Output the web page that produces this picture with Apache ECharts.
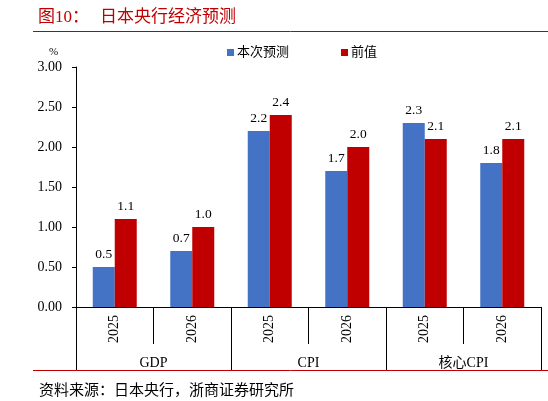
<!DOCTYPE html>
<html>
<head>
<meta charset="utf-8">
<script src="https://cdn.jsdelivr.net/npm/echarts@6/dist/echarts.min.js"></script>
<style>html,body{margin:0;padding:0;background:#fff;}#c{width:548px;height:401px;}</style>
</head>
<body>
<div id="c"></div>
<script>
var years = ['2025', '2026', '2025', '2026', '2025', '2026'];
var groups = ['GDP', 'CPI', '核心CPI'];
var seriesNames = ['本次预测', '前值'];
var current = [0.5, 0.7, 2.2, 1.7, 2.3, 1.8];
var previous = [1.1, 1.0, 2.4, 2.0, 2.1, 2.1];
var yTicks = { min: 0, max: 3, interval: 0.5 };

var FONT = "'Liberation Serif','Noto Sans CJK SC',serif";
var chart = echarts.init(document.getElementById('c'), null, { renderer: 'canvas' });

function barSeries(name, data, color) {
  return {
    name: name,
    type: 'bar',
    data: data,
    xAxisIndex: 0,
    barWidth: 22,
    barGap: '0%',
    itemStyle: { color: color },
    label: {
      show: true,
      position: 'top',
      distance: 6,
      color: '#000',
      fontFamily: FONT,
      fontSize: 13.5,
      formatter: function (p) { return p.value.toFixed(1); }
    }
  };
}

chart.setOption({
  animation: false,
  textStyle: { fontFamily: FONT },
  title: [
    { text: '图10：', left: 33, top: 4, textStyle: { color: '#C00000', fontSize: 17, fontWeight: 'normal', fontFamily: FONT } },
    { text: '日本央行经济预测', left: 95, top: 4, textStyle: { color: '#C00000', fontSize: 17, fontWeight: 'normal', fontFamily: FONT } },
    { text: '%', left: 44, top: 42, textStyle: { color: '#000', fontSize: 11, fontWeight: 'normal', fontFamily: FONT } },
    { text: '资料来源：日本央行，浙商证券研究所', left: 34, top: 379, textStyle: { color: '#000', fontSize: 15, fontWeight: 'normal', fontFamily: FONT } }
  ],
  legend: {
    data: seriesNames,
    left: 222,
    top: 41,
    icon: 'rect',
    itemWidth: 7,
    itemHeight: 7,
    itemGap: 52,
    textStyle: { color: '#000', fontSize: 13, fontFamily: FONT, padding: [0, 0, 0, -2] }
  },
  grid: { left: 76, right: 7, top: 67, bottom: 94, containLabel: false },
  xAxis: [
    {
      type: 'category',
      data: years,
      position: 'bottom',
      axisLine: { show: true, lineStyle: { color: '#000', width: 1 } },
      axisTick: { show: true, interval: 0, length: 37, alignWithLabel: false, lineStyle: { color: '#000' } },
      axisLabel: { show: true, interval: 0, rotate: 90, margin: 8, color: '#000', fontSize: 14, fontFamily: FONT }
    },
    {
      type: 'category',
      data: groups,
      position: 'bottom',
      axisLine: { show: false },
      axisTick: { show: true, interval: 0, length: 63, alignWithLabel: false, lineStyle: { color: '#000' } },
      axisLabel: { show: true, interval: 0, margin: 49, color: '#000', fontSize: 14, fontFamily: FONT }
    }
  ],
  yAxis: {
    type: 'value',
    min: yTicks.min,
    max: yTicks.max,
    interval: yTicks.interval,
    axisLine: { show: true, lineStyle: { color: '#000', width: 1 } },
    axisTick: { show: true, inside: false, length: 4, lineStyle: { color: '#000' } },
    splitLine: { show: false },
    axisLabel: {
      color: '#000', fontSize: 14, fontFamily: FONT, margin: 14,
      formatter: function (v) { return v.toFixed(2); }
    }
  },
  series: [
    barSeries(seriesNames[0], current, '#4472C4'),
    barSeries(seriesNames[1], previous, '#C00000')
  ],
  graphic: [
    { type: 'line', shape: { x1: 33, y1: 31.5, x2: 548, y2: 31.5 }, style: { stroke: '#C00000', lineWidth: 1 } },
    { type: 'line', shape: { x1: 33, y1: 370.5, x2: 548, y2: 370.5 }, style: { stroke: '#C00000', lineWidth: 1 } }
  ]
});
</script>
</body>
</html>
